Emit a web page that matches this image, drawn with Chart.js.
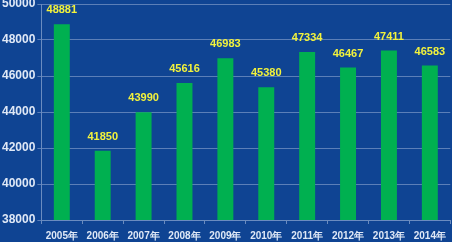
<!DOCTYPE html>
<html><head><meta charset="utf-8">
<script src="https://cdn.jsdelivr.net/npm/chart.js@4"></script>
<style>
html,body{margin:0;padding:0;background:#0f4493;}
#wrap{width:452px;height:242px;position:relative;}
</style></head>
<body><div id="wrap"><canvas id="c" width="452" height="242"></canvas></div>
<script>
const categories = ["2005年","2006年","2007年","2008年","2009年","2010年","2011年","2012年","2013年","2014年"];
const values = [48881,41850,43990,45616,46983,45380,47334,46467,47411,46583];
const yTicks = [38000,40000,42000,44000,46000,48000,50000];

const labelPlugin = {
  id:'labels',
  afterDatasetsDraw(chart){
    const ctx = chart.ctx;
    const meta = chart.getDatasetMeta(0);
    ctx.save();
    ctx.font = 'bold 11px Arial, "Liberation Sans", sans-serif';
    ctx.fillStyle = '#f2f23c';
    ctx.textAlign = 'center';
    ctx.textBaseline = 'middle';
    meta.data.forEach((bar,i)=>{
      ctx.fillText(String(values[i]), bar.x, Math.max(bar.y - 14, 8));
    });
    ctx.restore();
  }
};

new Chart(document.getElementById('c'), {
  type:'bar',
  data:{labels:categories, datasets:[{data:values, backgroundColor:'#00b050', borderWidth:0, barPercentage:0.78, categoryPercentage:0.5}]},
  options:{
    responsive:false, animation:false,
    layout:{padding:{top:4,right:1,left:0,bottom:-6}},
    plugins:{legend:{display:false}, tooltip:{enabled:false}},
    scales:{
      x:{
        grid:{display:true, drawOnChartArea:false, color:'#6a8cc0', tickLength:4, offset:true},
        border:{color:'#6a8cc0'},
        ticks:{color:'#dfe8f6', font:{family:'Arial, "Liberation Sans", sans-serif', size:10, weight:'bold'}, padding:6, maxRotation:0, autoSkip:false}
      },
      y:{
        min:38000, max:50000,
        afterBuildTicks(axis){ axis.ticks = yTicks.map(v=>({value:v})); },
        afterFit(scale){ scale.paddingTop = 0; },
        grid:{color:'#5b7fb8', tickLength:4},
        border:{color:'#6a8cc0'},
        ticks:{color:'#dfe8f6', font:{family:'Arial, "Liberation Sans", sans-serif', size:12, weight:'bold'}, padding:2, callback:(v)=>String(v)}
      }
    }
  },
  plugins:[labelPlugin]
});
</script></body></html>
